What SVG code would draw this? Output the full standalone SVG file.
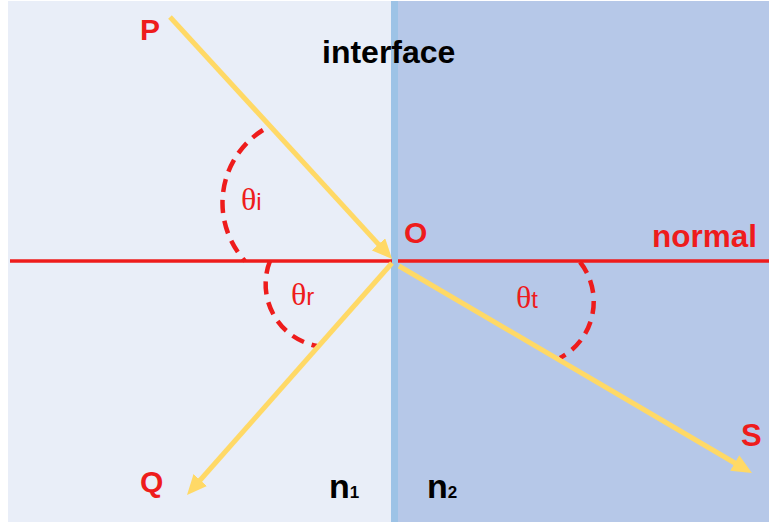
<svg xmlns="http://www.w3.org/2000/svg" width="769" height="527" viewBox="0 0 769 527">
<style>
.ray{stroke:#ffd966;stroke-width:5;fill:none}
.nrm{stroke:#ee1c1c;stroke-width:3.5;fill:none}
.arc{stroke:#ee1c1c;stroke-width:4.5;fill:none;stroke-dasharray:13 8}
.lab{font-family:"Liberation Sans",Arial,sans-serif;font-weight:bold;fill:#ee1c1c}
.blk{font-family:"Liberation Sans",Arial,sans-serif;font-weight:bold;fill:#000}
.th{font-family:"Liberation Serif","Times New Roman",serif;fill:#ee1c1c;font-size:32px}
.sb{font-family:"Liberation Sans",Arial,sans-serif;fill:#ee1c1c;font-size:24px}
</style>
<defs>
<marker id="ah" viewBox="0 -9 20 18" markerUnits="userSpaceOnUse" markerWidth="20" markerHeight="18" refX="14" refY="0" orient="auto">
<path d="M0,-9 L20,0 L0,9 Z" fill="#ffd966"/>
</marker>
</defs>
<rect width="769" height="527" fill="#ffffff"/>
<g id="medium1"><rect x="8" y="1" width="384" height="521" fill="#e9eef8"/></g>
<g id="medium2"><rect x="398" y="1" width="371" height="521" fill="#b6c8e8"/></g>
<g id="interface-strip"><rect x="391" y="1" width="7" height="521" fill="#9dc3e6"/></g>
<g id="normal-line">
<line class="nrm" x1="10" y1="261" x2="392" y2="261"/>
<line class="nrm" x1="398" y1="261" x2="769" y2="261"/>
</g>
<g id="angles">
<path class="arc" d="M263,130 A86,86 0 0 0 245,261"/>
<path class="arc" d="M270,261 A63,63 0 0 0 317,346"/>
<path class="arc" d="M580,262 A64,64 0 0 1 560,358"/>
</g>
<g id="connectors">
<line class="ray" x1="170" y1="17" x2="388" y2="254.6" marker-end="url(#ah)"/>
<line class="ray" x1="392" y1="263" x2="191" y2="490.5" marker-end="url(#ah)"/>
<line class="ray" x1="399" y1="266" x2="746.8" y2="470" marker-end="url(#ah)"/>
</g>
<g id="labels">
<text class="lab" x="140" y="40" font-size="30">P</text>
<text class="blk" x="322" y="63" font-size="32">interface</text>
<text class="lab" x="404" y="243" font-size="30">O</text>
<text class="lab" x="652" y="247" font-size="31.5">normal</text>
<text class="lab" x="140" y="492" font-size="30">Q</text>
<text class="lab" x="741" y="446" font-size="31">S</text>
<text x="329" y="498"><tspan class="blk" font-size="34">n</tspan><tspan class="blk" font-size="17">1</tspan></text>
<text x="427" y="498"><tspan class="blk" font-size="34">n</tspan><tspan class="blk" font-size="17">2</tspan></text>
<text x="241" y="210"><tspan class="th">θ</tspan><tspan class="sb">i</tspan></text>
<text x="291" y="305"><tspan class="th">θ</tspan><tspan class="sb">r</tspan></text>
<text x="516" y="308"><tspan class="th">θ</tspan><tspan class="sb">t</tspan></text>
</g>
</svg>
